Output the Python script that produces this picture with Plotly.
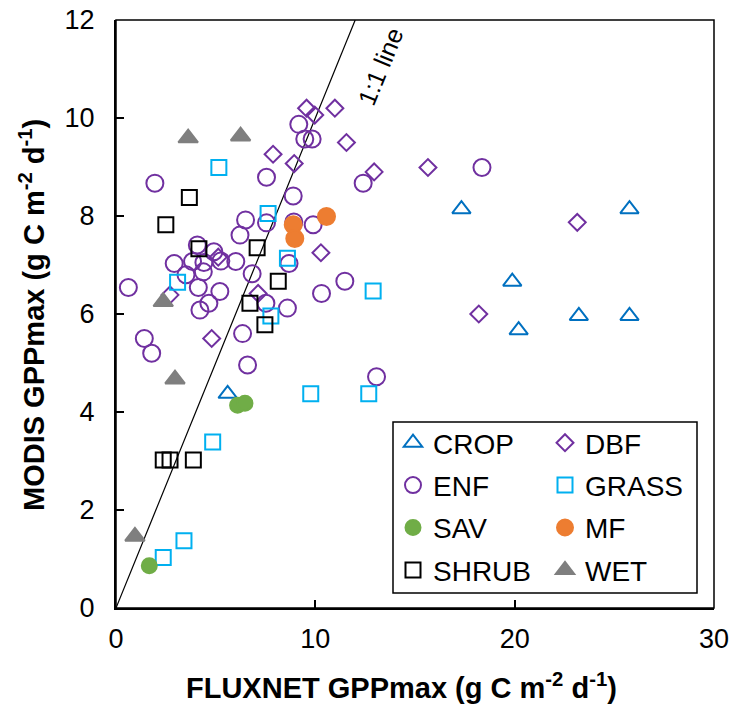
import plotly.graph_objects as go

# ---------------- data ----------------
crop_x = [5.6, 17.33, 25.76, 19.88, 20.2, 23.22, 25.76]
crop_y = [4.37, 8.14, 8.14, 6.66, 5.67, 5.96, 5.96]

dbf_x = [9.56, 9.97, 10.98, 11.56, 7.88, 8.94, 12.95, 15.65, 23.14, 18.2, 5.13, 2.71, 4.8, 10.28, 7.13]
dbf_y = [10.2, 10.06, 10.2, 9.5, 9.26, 9.07, 8.9, 8.99, 7.87, 6.0, 7.16, 6.39, 5.5, 7.25, 6.42]

enf_x = [9.17, 9.47, 9.84, 7.55, 8.89, 12.4, 18.36, 1.95, 6.5, 7.55, 8.92, 9.89, 6.22, 6.01,
         8.68, 6.83, 11.48, 10.31, 7.52, 8.6, 6.35, 6.6, 13.07, 0.62, 4.08, 4.91, 5.26, 2.92,
         3.84, 4.41, 4.38, 3.51, 4.13, 5.21, 4.66, 4.21, 1.42, 1.79]
enf_y = [9.87, 9.57, 9.57, 8.79, 8.41, 8.67, 8.99, 8.67, 7.92, 7.86, 7.88, 7.82, 7.61, 7.07,
         7.03, 6.82, 6.67, 6.42, 6.22, 6.12, 5.6, 4.96, 4.72, 6.54, 7.41, 7.27, 7.08, 7.03,
         7.07, 7.05, 6.86, 6.8, 6.54, 6.46, 6.22, 6.08, 5.5, 5.2]

grass_x = [5.16, 7.63, 8.6, 3.09, 7.77, 12.9, 9.77, 12.68, 4.85, 3.41, 2.37]
grass_y = [8.99, 8.05, 7.14, 6.65, 5.96, 6.47, 4.37, 4.37, 3.39, 1.37, 1.03]

sav_x = [6.1, 6.47, 1.67]
sav_y = [4.14, 4.18, 0.86]

mf_x = [10.56, 8.89, 8.97]
mf_y = [7.99, 7.82, 7.54]

shrub_x = [2.5, 3.68, 4.16, 7.08, 8.14, 6.72, 7.47, 2.37, 2.71, 3.88]
shrub_y = [7.82, 8.38, 7.33, 7.35, 6.67, 6.22, 5.78, 3.02, 3.02, 3.02]

wet_x = [3.62, 6.25, 2.37, 2.96, 0.95]
wet_y = [9.59, 9.63, 6.25, 4.67, 1.46]

one_to_one = [0, 12]

x_ticks = [0, 10, 20, 30]
y_ticks = [0, 2, 4, 6, 8, 10, 12]

FONT = "Arial, Liberation Sans, sans-serif"

fig = go.Figure()

# 1:1 line
fig.add_trace(go.Scatter(x=one_to_one, y=one_to_one, mode="lines",
                         line=dict(color="black", width=1.2),
                         showlegend=False, hoverinfo="skip"))

series = [
    ("CROP", crop_x, crop_y, "triangle-up-open", "#0070C0", 16, "legend"),
    ("DBF", dbf_x, dbf_y, "diamond-open", "#7030A0", 13, "legend2"),
    ("ENF", enf_x, enf_y, "circle-open", "#7030A0", 17, "legend"),
    ("GRASS", grass_x, grass_y, "square-open", "#00B0F0", 15, "legend2"),
    ("SAV", sav_x, sav_y, "circle", "#70AD47", 15, "legend"),
    ("MF", mf_x, mf_y, "circle", "#ED7D31", 17, "legend2"),
    ("SHRUB", shrub_x, shrub_y, "square-open", "#000000", 15, "legend"),
    ("WET", wet_x, wet_y, "triangle-up", "#7F7F7F", 17, "legend2"),
]

for name, xs, ys, sym, col, sz, lg in series:
    fig.add_trace(go.Scatter(
        x=xs, y=ys, mode="markers", name=name, legend=lg, legendgroup=name,
        marker=dict(symbol=sym, size=sz, color=col,
                    line=dict(color=col, width=2)),
    ))

leg_common = dict(
    font=dict(family=FONT, size=28, color="black"),
    bgcolor="rgba(0,0,0,0)", borderwidth=0,
    xanchor="left", yanchor="top",
    traceorder="grouped", tracegroupgap=3, itemwidth=30,
)

PW, PH = 598, 588

fig.update_layout(
    width=733, height=708, autosize=False,
    margin=dict(l=116, r=19, t=20, b=100, pad=0, autoexpand=False),
    paper_bgcolor="white", plot_bgcolor="white",
    font=dict(family=FONT, size=27, color="black"),
    legend=dict(x=(393 - 116) / PW, y=(608 - 418) / PH, **leg_common),
    legend2=dict(x=(545 - 116) / PW, y=(608 - 418) / PH, **leg_common),
    xaxis=dict(range=[0, 30], tickvals=x_ticks, ticks="inside", ticklen=8,
               tickwidth=1.5, tickcolor="black", showgrid=False, zeroline=False,
               showline=True, linecolor="black", linewidth=2, automargin=False,
               tickfont=dict(family=FONT, size=27, color="black"),
               ticklabelstandoff=6),
    yaxis=dict(range=[0, 12], tickvals=y_ticks, ticks="inside", ticklen=8,
               tickwidth=1.5, tickcolor="black", showgrid=False, zeroline=False,
               showline=True, linecolor="black", linewidth=2, automargin=False,
               tickfont=dict(family=FONT, size=27, color="black"),
               ticklabelstandoff=14),
    shapes=[
        dict(type="rect", xref="paper", yref="paper", x0=0, x1=1, y0=0, y1=1,
             line=dict(color="black", width=1.5), layer="above"),
        dict(type="rect", xref="paper", yref="paper",
             x0=(393 - 116) / PW, x1=(697 - 116) / PW,
             y0=(608 - 593) / PH, y1=(608 - 422) / PH,
             line=dict(color="black", width=1.5), layer="above"),
    ],
    annotations=[
        dict(text="1:1 line", x=13.28, y=11.06, xref="x", yref="y", showarrow=False,
             textangle=-67.8, font=dict(family=FONT, size=25, color="black")),
        dict(text="<b>FLUXNET GPPmax (g C m<sup>-2</sup> d<sup>-1</sup>)</b>",
             x=(401 - 116) / PW, y=-(686 - 608) / PH, xref="paper", yref="paper",
             showarrow=False, xanchor="center", yanchor="middle",
             font=dict(family=FONT, size=29, color="black")),
        dict(text="<b>MODIS GPPmax (g C m<sup>-2</sup> d<sup>-1</sup>)</b>",
             x=-(116 - 32) / PW, y=(608 - 315) / PH, xref="paper", yref="paper",
             showarrow=False, xanchor="center", yanchor="middle", textangle=-90,
             font=dict(family=FONT, size=29, color="black")),
    ],
)

fig.write_html("out.html")
